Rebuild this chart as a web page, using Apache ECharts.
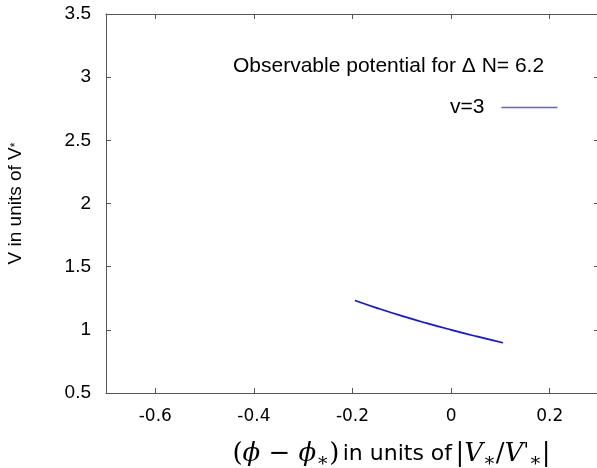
<!DOCTYPE html>
<html>
<head>
<meta charset="utf-8">
<script src="https://cdn.jsdelivr.net/npm/echarts@6/dist/echarts.min.js"></script>
<style>
html,body{margin:0;padding:0;background:#fff;}
#chart{width:597px;height:468px;}
</style>
</head>
<body>
<div id="chart"></div>
<script>
// Data
var seriesName = 'v=3';
var phiValues = [-0.195, -0.15, -0.1, -0.05, 0.0, 0.05, 0.105];
var vValues   = [1.232, 1.172, 1.11, 1.053, 1.0, 0.95, 0.898];
var xTicks = [-0.6, -0.4, -0.2, 0, 0.2];
var yTicks = [0.5, 1, 1.5, 2, 2.5, 3, 3.5];
var titleText = 'Observable potential for \u0394 N= 6.2';

var points = phiValues.map(function (x, i) { return [x, vValues[i]]; });

var chart = echarts.init(document.getElementById('chart'), null, {renderer: 'canvas'});
var axisCol = '#555555';
var sans = 'Liberation Sans, Arial, Helvetica, sans-serif';
var serif = 'DejaVu Serif, Liberation Serif, serif';
var legendCol = '#5c5cff';

function fmt(v) { return String(v); }

var option = {
  animation: false,
  backgroundColor: '#ffffff',
  title: {
    text: titleText,
    left: 228, top: 51,
    textStyle: {fontFamily: sans, fontSize: 21, fontWeight: 'normal', color: '#000'}
  },
  legend: {
    data: [{name: seriesName, icon: 'rect',
            itemStyle: {color: legendCol, borderColor: legendCol, borderWidth: 0, opacity: 1}}],
    left: 445, top: 92,
    align: 'right',
    itemWidth: 56, itemHeight: 1.5,
    itemGap: 0,
    itemStyle: {color: legendCol, borderColor: legendCol, borderWidth: 0, opacity: 1},
    textStyle: {fontFamily: sans, fontSize: 21, color: '#000', padding: [0, 12, 6, 0]}
  },
  grid: {left: 106, top: 14, right: -2, bottom: 75, containLabel: false, outerBoundsMode: 'none'},
  xAxis: [{
    type: 'value', min: -0.7, max: 0.3, interval: 0.1,
    axisLine: {show: true, onZero: false, lineStyle: {color: axisCol, width: 1}},
    axisTick: {show: true, inside: true, length: 5, lineStyle: {color: axisCol},
      customValues: xTicks},
    axisLabel: {show: true, color: '#000', fontFamily: 'DejaVu Sans, sans-serif', fontSize: 17, margin: 15,
      customValues: xTicks, formatter: fmt},
    splitLine: {show: false},
    name: '{p|(}{m|\u03d5}{p| \u2212 }{m|\u03d5}{s|\u2217}{p|)} {t|in units of} {p||}{m|V}{s|\u2217}{p|/}{m|V}{q|\'}{s|\u2217}{p||}',
    nameLocation: 'middle', nameGap: 45,
    nameTextStyle: {
      padding: [0, 0, 0, 78],
      rich: {
        p: {fontFamily: serif, fontSize: 26, color: '#000'},
        m: {fontFamily: serif, fontStyle: 'italic', fontSize: 26, color: '#000'},
        t: {fontFamily: 'DejaVu Sans, sans-serif', fontSize: 22, color: '#000'},
        s: {fontFamily: serif, fontSize: 19, color: '#000', padding: [14, 0, 0, 0]},
        q: {fontFamily: serif, fontSize: 20, color: '#000', padding: [0, 0, 6, 0]}
      }
    }
  }, {
    type: 'value', position: 'top', min: -0.7, max: 0.3, interval: 0.1,
    axisLine: {show: true, onZero: false, lineStyle: {color: axisCol, width: 1}},
    axisTick: {show: true, inside: true, length: 5, lineStyle: {color: axisCol},
      customValues: xTicks},
    axisLabel: {show: false},
    splitLine: {show: false}
  }],
  yAxis: [{
    type: 'value', min: 0.5, max: 3.5, interval: 0.5,
    axisLine: {show: true, onZero: false, lineStyle: {color: axisCol, width: 1}},
    axisTick: {show: true, inside: true, length: 5, lineStyle: {color: axisCol},
      customValues: yTicks},
    axisLabel: {show: true, color: '#000', fontFamily: sans, fontSize: 19, margin: 15,
      customValues: yTicks, formatter: fmt},
    splitLine: {show: false},
    name: '{t|V in units of V}{s|*}',
    nameLocation: 'middle', nameGap: 81, nameRotate: 90,
    nameTextStyle: {
      padding: [0, 0, 0, 0],
      rich: {
        t: {fontFamily: sans, fontSize: 19, color: '#000'},
        s: {fontFamily: sans, fontSize: 12, color: '#000'}
      }
    }
  }, {
    type: 'value', position: 'right', min: 0.5, max: 3.5, interval: 0.5,
    axisLine: {show: true, onZero: false, lineStyle: {color: axisCol, width: 1}},
    axisTick: {show: true, inside: true, length: 5, lineStyle: {color: axisCol}},
    axisLabel: {show: false},
    splitLine: {show: false}
  }],
  series: [{
    name: seriesName,
    type: 'line',
    xAxisIndex: 0, yAxisIndex: 0,
    data: points,
    smooth: true,
    showSymbol: false,
    symbol: 'none',
    lineStyle: {color: '#1010ff', width: 1.7},
    itemStyle: {color: legendCol}
  }]
};
chart.setOption(option);
</script>
</body>
</html>
